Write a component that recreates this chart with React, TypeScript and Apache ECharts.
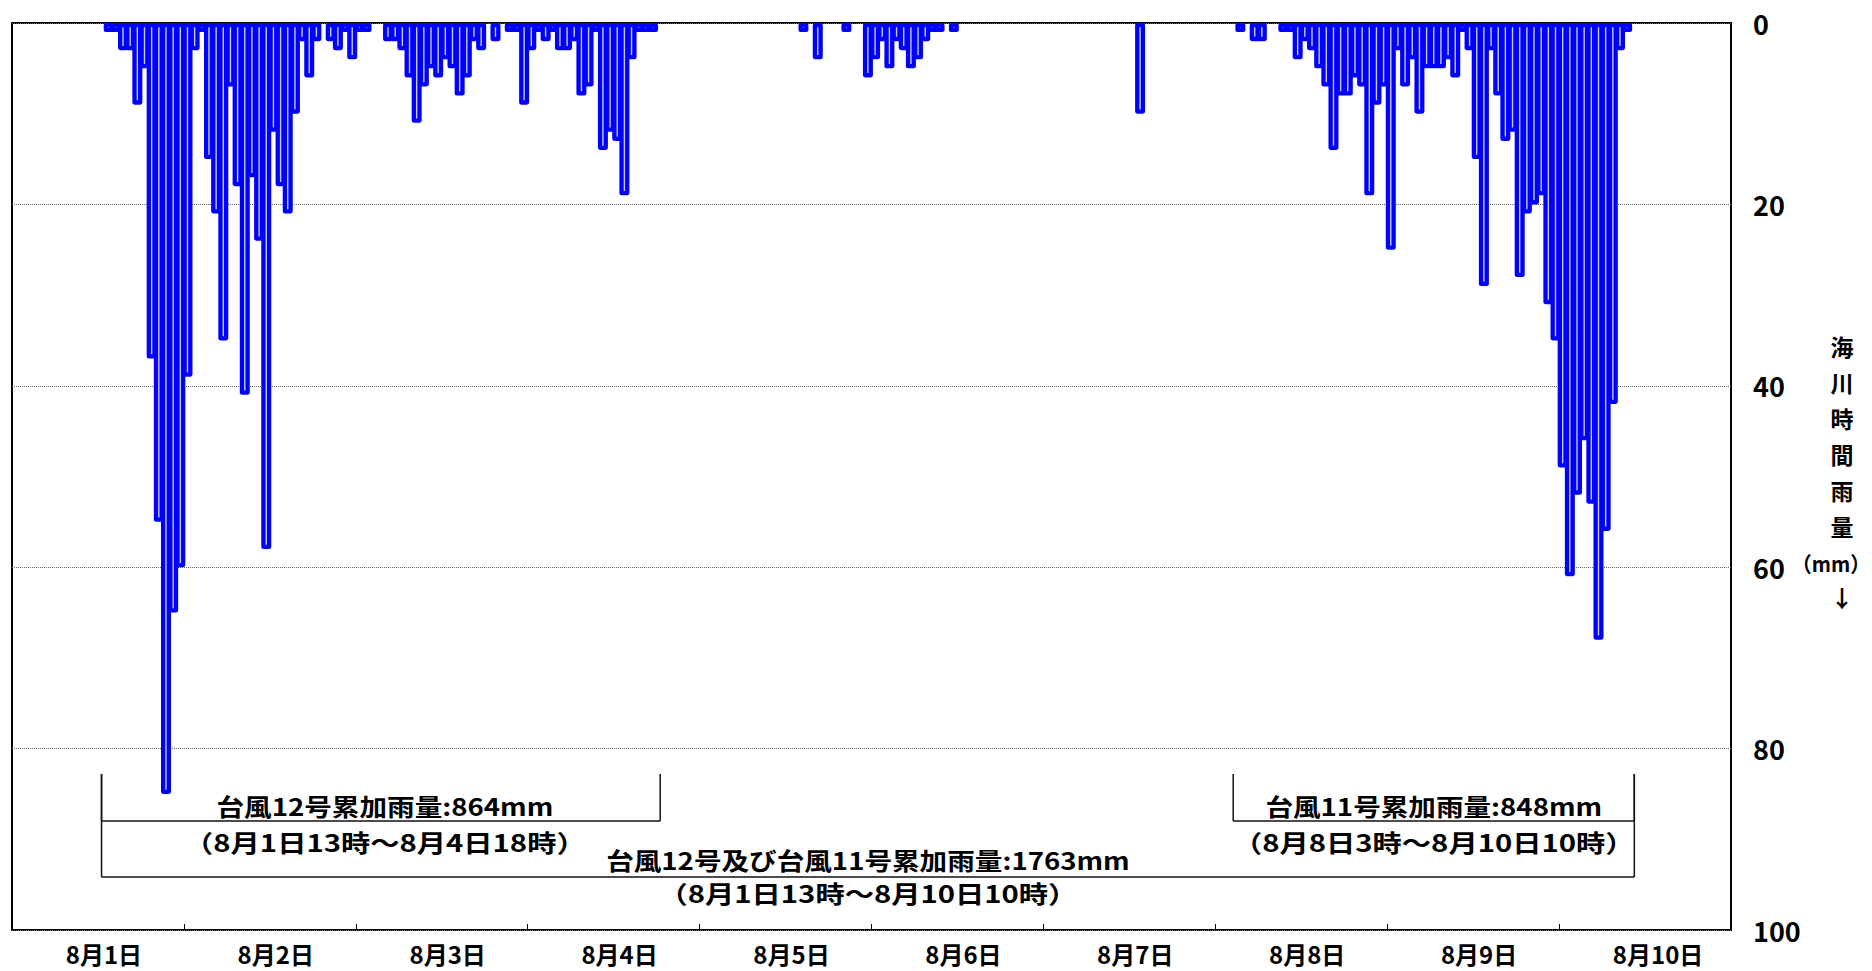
import React, { useEffect, useRef } from "react";
import * as echarts from "echarts";

// Day labels on the category axis
const dayLabels = ["8月1日", "8月2日", "8月3日", "8月4日", "8月5日", "8月6日", "8月7日", "8月8日", "8月9日", "8月10日"];
const hourLabels = ["0時", "1時", "2時", "3時", "4時", "5時", "6時", "7時", "8時", "9時", "10時", "11時", "12時", "13時", "14時", "15時", "16時", "17時", "18時", "19時", "20時", "21時", "22時", "23時"];

// Hourly rainfall (mm) at 海川, one value per hour (0時..23時)
const rainAug1 = [0, 0, 0, 0, 0, 0, 0, 0, 0, 0, 0, 0, 0, 1, 1, 3, 3, 9, 5, 37, 55, 85, 65, 60];
const rainAug2 = [39, 3, 1, 15, 21, 35, 7, 18, 41, 17, 24, 58, 12, 18, 21, 10, 2, 6, 2, 0, 2, 3, 1, 4];
const rainAug3 = [1, 1, 0, 0, 2, 2, 3, 6, 11, 7, 5, 6, 4, 5, 8, 6, 2, 3, 0, 2, 0, 1, 1, 9];
const rainAug4 = [3, 1, 2, 1, 3, 3, 2, 8, 7, 1, 14, 12, 13, 19, 4, 1, 1, 1, 0, 0, 0, 0, 0, 0];
const rainAug5 = [0, 0, 0, 0, 0, 0, 0, 0, 0, 0, 0, 0, 0, 0, 1, 0, 4, 0, 0, 0, 1, 0, 0, 6];
const rainAug6 = [4, 2, 5, 2, 3, 5, 4, 2, 1, 1, 0, 1, 0, 0, 0, 0, 0, 0, 0, 0, 0, 0, 0, 0];
const rainAug7 = [0, 0, 0, 0, 0, 0, 0, 0, 0, 0, 0, 0, 0, 10, 0, 0, 0, 0, 0, 0, 0, 0, 0, 0];
const rainAug8 = [0, 0, 0, 1, 0, 2, 2, 0, 0, 1, 1, 4, 2, 3, 5, 7, 14, 8, 8, 6, 7, 19, 9, 7];
const rainAug9 = [25, 3, 7, 4, 10, 5, 5, 5, 4, 6, 1, 3, 15, 29, 3, 8, 13, 12, 28, 21, 20, 19, 31, 35];
const rainAug10 = [49, 61, 52, 46, 53, 68, 56, 42, 3, 1, 0, 0, 0, 0, 0, 0, 0, 0, 0, 0, 0, 0, 0, 0];

// Accumulation periods: [day, hour] start and end on the axis
const periodTitles = ["台風12号累加雨量:864mm", "台風11号累加雨量:848mm", "台風12号及び台風11号累加雨量:1763mm"];
const periodRanges = ["（8月1日13時～8月4日18時）", "（8月8日3時～8月10日10時）", "（8月1日13時～8月10日10時）"];
const periodStarts = [[1, 12], [8, 2], [1, 12]];
const periodEnds = [[4, 18], [10, 10], [10, 10]];

// Vertical axis title (right side)
const yNameColumn = "海\n川\n時\n間\n雨\n量";
const yNameUnit = "（mm）";
const yNameArrow = "↓";

const FONT = "'Noto Sans CJK JP', 'Noto Sans', sans-serif";

export default function App() {
  const ref = useRef<HTMLDivElement>(null);

  useEffect(() => {
    const el = ref.current;
    if (!el) return;
    const chart = echarts.init(el, undefined, { renderer: "svg" });

    const days = [rainAug1, rainAug2, rainAug3, rainAug4, rainAug5, rainAug6, rainAug7, rainAug8, rainAug9, rainAug10];
    const categories: string[] = [];
    const values: (number | string)[] = [];
    days.forEach((arr, d) => {
      arr.forEach((v, h) => {
        categories.push(dayLabels[d] + hourLabels[h]);
        values.push(v === 0 ? "-" : v);
      });
    });

    chart.setOption({
      animation: false,
      grid: {
        left: 12,
        right: 141,
        top: 23,
        bottom: 41,
        show: true,
        borderColor: "#000",
        borderWidth: 2,
      },
      xAxis: {
        type: "category",
        position: "bottom",
        data: categories,
        boundaryGap: true,
        axisLine: { show: false, onZero: false },
        axisTick: {
          show: true,
          inside: true,
          length: 6,
          interval: (i: number) => i % 24 === 0,
          lineStyle: { color: "#000", width: 1 },
        },
        axisLabel: {
          interval: (i: number) => i % 24 === 7,
          formatter: (_v: string, i: number) => dayLabels[Math.floor(i / 24)],
          align: "left",
          margin: 11,
          fontSize: 24,
          fontWeight: "bold",
          color: "#000",
          fontFamily: FONT,
        },
        splitLine: { show: false },
      },
      yAxis: {
        type: "value",
        position: "right",
        inverse: true,
        min: 0,
        max: 100,
        interval: 20,
        axisLine: { show: false },
        axisTick: { show: false },
        axisLabel: {
          margin: 22,
          fontSize: 27,
          fontWeight: "bold",
          color: "#000",
          fontFamily: FONT,
        },
        splitLine: { show: true, lineStyle: { type: "dotted", color: "#666", width: 1 } },
      },
      series: [
        {
          type: "bar",
          data: values,
          barWidth: 10,
          barGap: "0%",
          itemStyle: {
            color: "#c8c8ff",
            borderColor: "#0000ff",
            borderWidth: 4.3,
            borderJoin: "round",
          },
        },
      ],
    });

    const xPix = (p: number[]) =>
      chart.convertToPixel({ xAxisIndex: 0 }, categories[(p[0] - 1) * 24 + p[1]]) as number;

    const topY = 774;
    const lineYs = [821, 821, 877];
    const titleYs = [805, 805, 859];
    const rangeYs = [842, 842, 893];

    const baseText = {
      fill: "#000",
      fontSize: 24,
      fontWeight: "bold",
      fontFamily: FONT,
      align: "center",
      verticalAlign: "middle",
      textAlign: "center",
      textVerticalAlign: "middle",
    };

    const elements: any[] = [];
    periodTitles.forEach((title, k) => {
      const x1 = xPix(periodStarts[k]);
      const x2 = xPix(periodEnds[k]);
      const ly = lineYs[k];
      const lineStyle = { stroke: "#111", lineWidth: 1.5 };
      elements.push({ type: "line", shape: { x1, y1: ly, x2, y2: ly }, style: lineStyle });
      elements.push({ type: "line", shape: { x1, y1: topY, x2: x1, y2: ly }, style: lineStyle });
      elements.push({ type: "line", shape: { x1: x2, y1: topY, x2, y2: ly }, style: lineStyle });
      const cx = (x1 + x2) / 2 + (k === 0 ? 4 : 0);
      elements.push({ type: "text", x: cx, y: titleYs[k], scaleX: 1.15, style: { ...baseText, text: title } });
      elements.push({ type: "text", x: cx, y: rangeYs[k], scaleX: 1.22, style: { ...baseText, text: periodRanges[k] } });
    });

    elements.push({
      type: "text",
      x: 1842,
      y: 436,
      style: { ...baseText, fontSize: 23, lineHeight: 36, text: yNameColumn },
    });
    elements.push({
      type: "text",
      x: 1831,
      y: 563,
      scaleX: 0.95,
      style: { ...baseText, fontSize: 21, text: yNameUnit },
    });
    elements.push({
      type: "text",
      x: 1842,
      y: 597,
      style: { ...baseText, fontSize: 23, text: yNameArrow },
    });

    chart.setOption({ graphic: { elements } });

    return () => {
      chart.dispose();
    };
  }, []);

  return (
    <div
      ref={ref}
      style={{ position: "fixed", left: 0, top: 0, width: 1872, height: 971, background: "#fff" }}
    />
  );
}
